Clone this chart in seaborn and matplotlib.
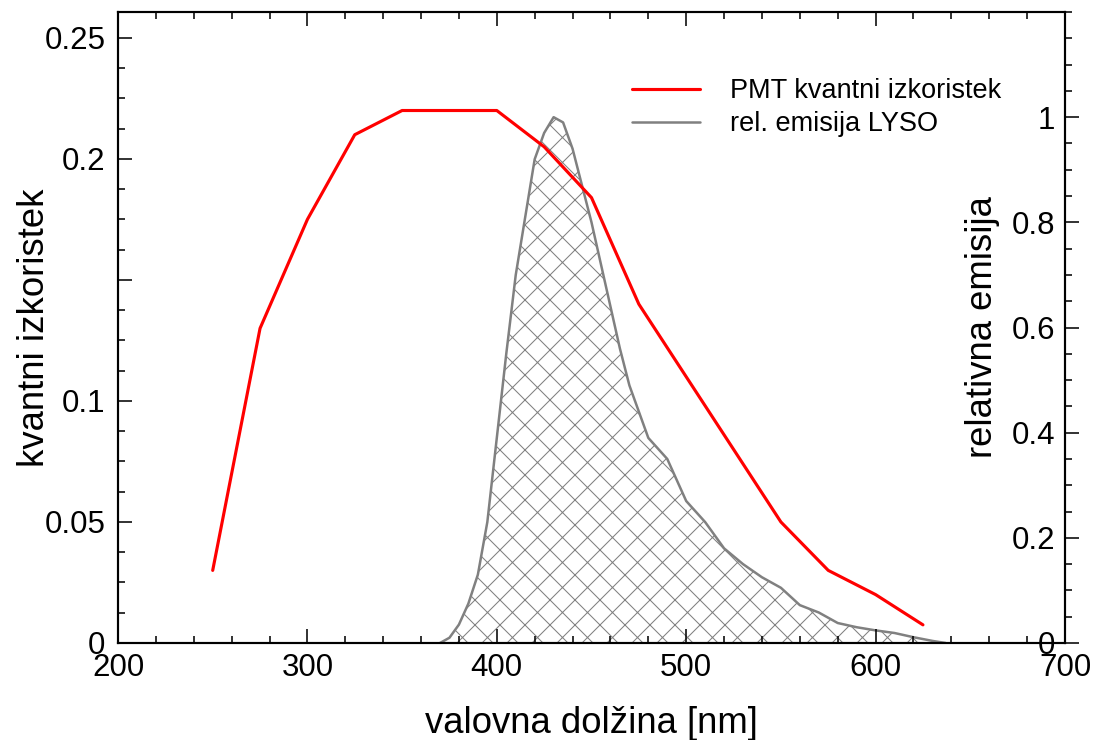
import numpy as np
import pandas as pd
import seaborn as sns
import matplotlib.pyplot as plt
from matplotlib.ticker import MultipleLocator, FixedLocator
from matplotlib.lines import Line2D

# PMT quantum efficiency (left axis)
pmt_wl = [250, 275, 300, 325, 350, 400, 425, 450, 475, 550, 575, 600, 625]
pmt_qe = [0.030, 0.130, 0.175, 0.210, 0.220, 0.220, 0.205, 0.184, 0.140,
          0.050, 0.030, 0.020, 0.0075]

# LYSO relative emission (right axis)
lyso_wl = [370, 375, 380, 385, 390, 395, 400, 405, 410, 415, 420, 425, 430,
           435, 440, 445, 450, 455, 460, 465, 470, 475, 480, 485, 490, 495,
           500, 510, 520, 530, 540, 550, 560, 570, 580, 590, 600, 610, 620,
           630, 637]
lyso_em = [0.0, 0.01, 0.035, 0.075, 0.13, 0.23, 0.39, 0.55, 0.70, 0.81, 0.92,
           0.97, 1.0, 0.99, 0.94, 0.87, 0.80, 0.72, 0.64, 0.56, 0.49, 0.44,
           0.39, 0.37, 0.35, 0.31, 0.27, 0.23, 0.18, 0.15, 0.125, 0.105,
           0.072, 0.058, 0.038, 0.030, 0.024, 0.019, 0.011, 0.004, 0.0]

pmt = pd.DataFrame({'wl': pmt_wl, 'qe': pmt_qe})
lyso = pd.DataFrame({'wl': lyso_wl, 'em': lyso_em})

sns.set_style('ticks')
plt.rcParams['font.family'] = ['Liberation Sans', 'DejaVu Sans']
plt.rcParams['hatch.linewidth'] = 0.5
plt.rcParams['hatch.color'] = 'grey'
for key in ['text.color', 'axes.labelcolor', 'xtick.color', 'ytick.color',
            'axes.edgecolor']:
    plt.rcParams[key] = 'black'

fig = plt.figure(figsize=(1097 / 150, 740 / 150), dpi=150)
ax = fig.add_axes([118 / 1097, 1 - 643 / 740, 947 / 1097, 631 / 740])
ax2 = ax.twinx()

# emission: hatched area + grey outline
ax2.fill_between(lyso['wl'], lyso['em'], 0, facecolor='white',
                 edgecolor='grey', hatch='xx', linewidth=0)
sns.lineplot(data=lyso, x='wl', y='em', ax=ax2, color='grey', lw=1.2)

sns.lineplot(data=pmt, x='wl', y='qe', ax=ax, color='red', lw=1.5)

ax.set_zorder(ax2.get_zorder() + 1)
ax.patch.set_visible(False)

ax.set_xlim(200, 700)
ax.set_ylim(0, 0.2607)
ax2.set_ylim(0, 1.2)

ax.xaxis.set_major_locator(MultipleLocator(100))
ax.xaxis.set_minor_locator(MultipleLocator(20))
ax.yaxis.set_major_locator(FixedLocator([0, 0.05, 0.1, 0.15, 0.2, 0.25]))
ax.set_yticklabels(['0', '0.05', '0.1', '', '0.2', '0.25'])
ax.yaxis.set_minor_locator(MultipleLocator(0.0125))

ax2.yaxis.set_major_locator(FixedLocator([0, 0.2, 0.4, 0.6, 0.8, 1.0]))
ax2.set_yticklabels(['0', '0.2', '0.4', '0.6', '0.8', '1'])
ax2.yaxis.set_minor_locator(MultipleLocator(0.05))

ax.tick_params(axis='x', which='both', direction='in', top=True,
               labelsize=15, pad=5, width=0.75)
ax.tick_params(axis='y', which='both', direction='in', labelsize=15,
               pad=6, width=0.75)
ax.tick_params(which='major', length=6.7)
ax.tick_params(which='minor', length=3.4)
ax2.tick_params(axis='y', which='both', direction='out', labelsize=15,
                width=0.75, pad=-11.5)
ax2.tick_params(which='major', length=6.7)
ax2.tick_params(which='minor', length=3.4)
for lab in ax2.get_yticklabels():
    lab.set_horizontalalignment('right')

for a in (ax, ax2):
    for s in a.spines.values():
        s.set_linewidth(1.0)
        s.set_color('black')

ax.set_xlabel('valovna dolžina [nm]', fontsize=17.5)
ax.set_ylabel('kvantni izkoristek', fontsize=17.5)
ax2.set_ylabel('relativna emisija', fontsize=17.5)
ax.yaxis.set_label_coords(-0.07, 0.5)
ax2.yaxis.set_label_coords(0.894, 0.5)
ax.xaxis.set_label_coords(0.5, -0.1)

handles = [Line2D([], [], color='red', lw=1.5),
           Line2D([], [], color='grey', lw=1.2)]
ax.legend(handles, ['PMT kvantni izkoristek', 'rel. emisija LYSO'],
          loc='upper left', bbox_to_anchor=(0.543, 0.895), frameon=False,
          fontsize=13, borderpad=0, borderaxespad=0, handlelength=2.5,
          handletextpad=1.1, labelspacing=0.25)

fig.savefig('out.png', dpi=150)
